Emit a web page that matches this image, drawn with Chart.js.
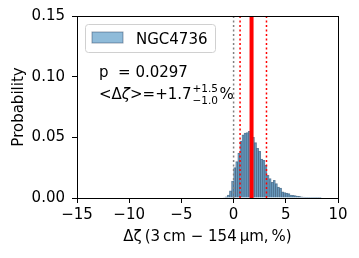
<!DOCTYPE html>
<html><head><meta charset="utf-8">
<script src="https://cdn.jsdelivr.net/npm/chart.js@4/dist/chart.umd.min.js"></script>
<style>html,body{margin:0;padding:0;background:#fff;}canvas{display:block;}</style>
</head><body>
<canvas id="c" width="359" height="258"></canvas>
<script>
// ---- data ----
const binCenters = [-0.9,-0.7,-0.5,-0.3,-0.1,0.1,0.3,0.5,0.7,0.9,1.1,1.3,1.5,1.7,1.9,2.1,2.3,2.5,2.7,2.9,3.1,3.3,3.5,3.7,3.9,4.1,4.3,4.5,4.7,4.9,5.1,5.3,5.5,5.7,5.9,6.1,6.3,6.5,6.7,6.9,7.1,7.3,7.5,7.7,7.9,8.1,8.3];
const probability = [0.0004,0.001,0.0025,0.006,0.014,0.025,0.030,0.037,0.047,0.052,0.0535,0.054,0.055,0.055,0.050,0.0456,0.041,0.0385,0.032,0.031,0.027,0.0187,0.016,0.013,0.0145,0.0118,0.009,0.0082,0.005,0.0045,0.004,0.0036,0.0025,0.0022,0.002,0.0016,0.0014,0.001,0.0008,0.0005,0.0005,0.0003,0.0003,0.0002,0.0002,0.0001,0.0001];
const seriesLabel = 'NGC4736';
const zeroLine = [0];
const meanLine = [1.72];
const boundLines = [0.62, 3.15];
const xTickValues = [-15, -10, -5, 0, 5, 10];
const yTickValues = [0.00, 0.05, 0.10, 0.15];
const pText = 'p  = 0.0297';
const meanText = '+1.7';
const upperText = '+1.5';
const lowerText = '\u22121.0';
const xTitle = '\u0394\u03b6\u2009(3\u2009cm \u2212 154\u2009\u03bcm,\u2009%)';
const yTitle = 'Probability';

const FONT = "'DejaVu Sans', sans-serif";
Chart.defaults.font.family = FONT;
Chart.defaults.font.size = 15;
Chart.defaults.color = '#000';

const BAR_FILL = 'rgba(31,119,180,0.5)';
const BAR_EDGE = 'rgba(30,55,85,0.6)';

function vline(v, color, width, dash) {
  return {type:'line', data:[{x:v,y:yTickValues[0]},{x:v,y:yTickValues[yTickValues.length-1]}],
    borderColor:color, borderWidth:width, borderDash:dash, borderCapStyle:'butt',
    pointRadius:0, fill:false, order:1};
}

const datasets = [
  {type:'bar', label:seriesLabel, data:binCenters.map((x,i)=>({x:x, y:probability[i]})),
   backgroundColor:BAR_FILL, borderColor:BAR_EDGE, borderWidth:0.5,
   barPercentage:1, categoryPercentage:1, order:2},
  ...zeroLine.map(v=>vline(v,'#808080',1.5,[2,2.5])),
  ...boundLines.map(v=>vline(v,'#ff0000',1.5,[2,2.5])),
  ...meanLine.map(v=>vline(v,'#ff0000',4,[]))
];

const overlay = {
  id:'overlay',
  afterDraw(chart){
    const {ctx, chartArea:a} = chart;
    ctx.save();
    // legend
    const lx = a.left + 8.5, ly = a.top + 8.5, lw = 130, lh = 28, r = 3;
    ctx.beginPath();
    ctx.moveTo(lx+r, ly); ctx.lineTo(lx+lw-r, ly); ctx.arcTo(lx+lw, ly, lx+lw, ly+r, r);
    ctx.lineTo(lx+lw, ly+lh-r); ctx.arcTo(lx+lw, ly+lh, lx+lw-r, ly+lh, r);
    ctx.lineTo(lx+r, ly+lh); ctx.arcTo(lx, ly+lh, lx, ly+lh-r, r);
    ctx.lineTo(lx, ly+r); ctx.arcTo(lx, ly, lx+r, ly, r); ctx.closePath();
    ctx.fillStyle = 'rgba(255,255,255,0.8)'; ctx.fill();
    ctx.strokeStyle = '#d0d0d0'; ctx.lineWidth = 1; ctx.stroke();
    ctx.fillStyle = BAR_FILL; ctx.fillRect(lx+6.5, ly+7.5, 31, 11);
    ctx.strokeStyle = 'rgba(30,55,85,0.45)'; ctx.lineWidth = 1; ctx.strokeRect(lx+6.5, ly+7.5, 31, 11);
    ctx.fillStyle = '#000';
    ctx.font = "15px " + FONT; ctx.textBaseline = 'alphabetic'; ctx.textAlign = 'left';
    ctx.fillText(seriesLabel, lx+50.5, ly+19);
    // annotations
    const tx = a.left + 22;
    ctx.fillText(pText, tx, a.top + 61.3);
    let x = tx; const by = a.top + 82.5;
    ctx.font = "15px " + FONT; ctx.fillText('<\u0394', x, by); x += ctx.measureText('<\u0394').width;
    ctx.font = "italic 15px " + FONT; ctx.fillText('\u03b6', x, by); x += ctx.measureText('\u03b6').width;
    ctx.font = "15px " + FONT; ctx.fillText('>=' + meanText, x, by); x += ctx.measureText('>=' + meanText).width + 1;
    ctx.font = "10.5px " + FONT;
    ctx.fillText(upperText, x, by - 7);
    ctx.fillText(lowerText, x, by + 5.5);
    x += Math.max(ctx.measureText(upperText).width, ctx.measureText(lowerText).width) + 1.5;
    ctx.font = "15px " + FONT; ctx.fillText('%', x, by);
    // frame
    ctx.strokeStyle = '#000'; ctx.lineWidth = 1;
    ctx.strokeRect(Math.round(a.left)+0.5, Math.round(a.top)+0.5, Math.round(a.right-a.left), Math.round(a.bottom-a.top));
    ctx.restore();
  }
};

new Chart(document.getElementById('c'), {
  type:'bar',
  data:{datasets:datasets},
  options:{
    responsive:false, animation:false, devicePixelRatio:1,
    layout:{padding:{left:0, right:21, top:16, bottom:0}},
    plugins:{legend:{display:false}, tooltip:{enabled:false}},
    scales:{
      x:{type:'linear', min:xTickValues[0], max:xTickValues[xTickValues.length-1], offset:false,
        afterBuildTicks: s => { s.ticks = xTickValues.map(v=>({value:v})); },
        ticks:{padding:3, maxRotation:0, autoSkip:false, color:'#000',
          callback: v => v < 0 ? '\u2212' + Math.abs(v) : String(v)},
        grid:{display:true, drawOnChartArea:false, drawTicks:true, tickLength:5, tickColor:'#000', tickWidth:1, offset:false},
        border:{display:false},
        title:{display:true, text:xTitle, color:'#000', padding:{top:0, bottom:12}},
        afterFit: s => { s.height = 60; }
      },
      y:{type:'linear', min:yTickValues[0], max:yTickValues[yTickValues.length-1],
        afterBuildTicks: s => { s.ticks = yTickValues.map(v=>({value:v})); },
        ticks:{padding:7, color:'#000', callback: v => Number(v).toFixed(2)},
        grid:{display:true, drawOnChartArea:false, drawTicks:true, tickLength:5, tickColor:'#000', tickWidth:1},
        border:{display:false},
        title:{display:true, text:yTitle, color:'#000', padding:{top:10, bottom:0}},
        afterFit: s => { s.width = 77; }
      }
    }
  },
  plugins:[overlay]
});
</script>
</body></html>
